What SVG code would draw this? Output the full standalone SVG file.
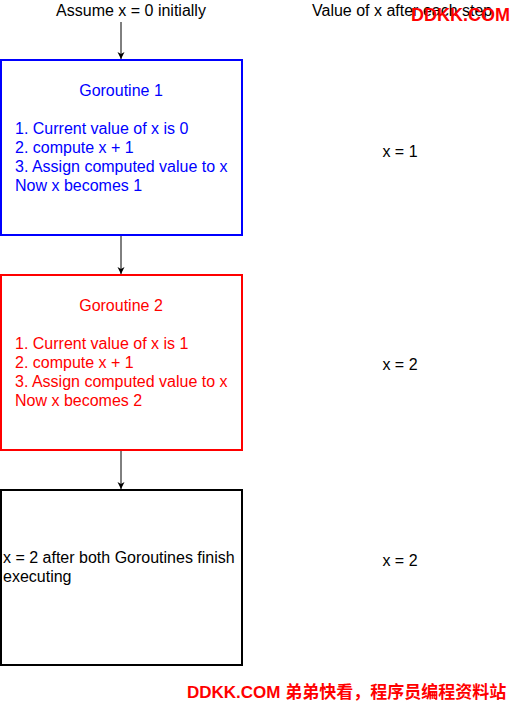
<svg xmlns="http://www.w3.org/2000/svg" width="512" height="702" viewBox="0 0 512 702">
<style>
text{font-family:"Liberation Sans",Arial,sans-serif;font-size:16px}
.box{fill:#fff;stroke-width:2}
.blue{fill:#0000ff}
.red{fill:#ff0000}
.blk{fill:#000}
.wm{font-family:"Liberation Sans","Noto Sans CJK SC",sans-serif;font-weight:bold;fill:#ff0000;font-size:17px}
</style>
<defs>
<marker id="arr" markerWidth="10" markerHeight="10" refX="8" refY="5" orient="auto" markerUnits="userSpaceOnUse">
<path d="M1,1.5 L8,5 L1,8.5 L3,5 Z" fill="#000"/>
</marker>
</defs>
<rect width="512" height="702" fill="#fff"/>
<g id="connectors" stroke="#000" stroke-width="1" fill="none">
<line x1="121" y1="22" x2="121" y2="59" marker-end="url(#arr)"/>
<line x1="121" y1="236" x2="121" y2="274" marker-end="url(#arr)"/>
<line x1="121" y1="451" x2="121" y2="489" marker-end="url(#arr)"/>
</g>
<g id="label-start"><text x="131" y="16" text-anchor="middle" class="blk">Assume x = 0 initially</text></g>
<g id="label-values"><text x="312" y="16" class="blk">Value of x after each step</text></g>
<g id="goroutine1">
<rect class="box" x="1" y="60" width="241" height="175" stroke="#0000ff"/>
<text x="121" y="96" text-anchor="middle" class="blue">Goroutine 1</text>
<text x="15" y="134" class="blue">1. Current value of x is 0</text>
<text x="15" y="153" class="blue">2. compute x + 1</text>
<text x="15" y="172" class="blue">3. Assign computed value to x</text>
<text x="15" y="191" class="blue">Now x becomes 1</text>
</g>
<g id="goroutine2">
<rect class="box" x="1" y="275" width="241" height="175" stroke="#ff0000"/>
<text x="121" y="311" text-anchor="middle" class="red">Goroutine 2</text>
<text x="15" y="349" class="red">1. Current value of x is 1</text>
<text x="15" y="368" class="red">2. compute x + 1</text>
<text x="15" y="387" class="red">3. Assign computed value to x</text>
<text x="15" y="406" class="red">Now x becomes 2</text>
</g>
<g id="final">
<rect class="box" x="1" y="490" width="241" height="175" stroke="#000"/>
<text x="3" y="563" class="blk">x = 2 after both Goroutines finish</text>
<text x="3" y="582" class="blk">executing</text>
</g>
<g id="val1"><text x="400" y="157" text-anchor="middle" class="blk">x = 1</text></g>
<g id="val2"><text x="400" y="370" text-anchor="middle" class="blk">x = 2</text></g>
<g id="val3"><text x="400" y="566" text-anchor="middle" class="blk">x = 2</text></g>
<g id="watermark-top"><text x="411" y="21" class="wm" style="font-size:18px">DDKK.COM</text></g>
<g id="watermark-bottom"><text x="187" y="698" class="wm">DDKK.COM 弟弟快看，程序员编程资料站</text></g>
</svg>
